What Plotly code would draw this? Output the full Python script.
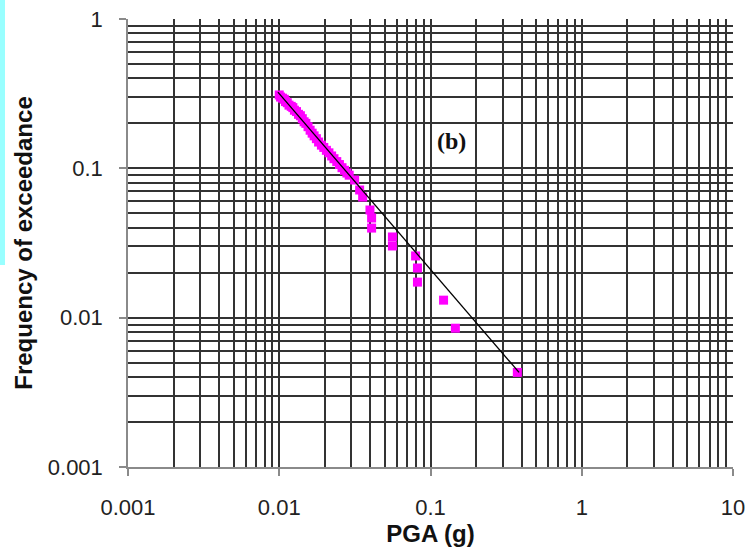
import plotly.graph_objects as go

# ---- data ----
pga = [0.0100, 0.0102, 0.0105, 0.0108, 0.0110, 0.0113, 0.0116, 0.0120, 0.0123, 0.0126,
       0.0130, 0.0134, 0.0138, 0.0142, 0.0146, 0.0150, 0.0155, 0.0160, 0.0165, 0.0170,
       0.0176, 0.0182, 0.0190, 0.0197, 0.0205, 0.0213, 0.0222, 0.0230, 0.0240, 0.0250,
       0.0260, 0.0270, 0.0280, 0.0290, 0.0315, 0.0340, 0.0356, 0.0398, 0.0408, 0.0408,
       0.0560, 0.0560, 0.0797, 0.0820, 0.0820, 0.1220, 0.1460, 0.3750]
freq = [0.310, 0.300, 0.295, 0.290, 0.280, 0.275, 0.265, 0.260, 0.255, 0.245,
        0.240, 0.230, 0.225, 0.215, 0.205, 0.200, 0.190, 0.180, 0.172, 0.165,
        0.158, 0.150, 0.143, 0.138, 0.132, 0.127, 0.121, 0.116, 0.111, 0.106,
        0.101, 0.097, 0.093, 0.090, 0.0835, 0.0716, 0.0642, 0.0526, 0.0465, 0.0398,
        0.0347, 0.0302, 0.0259, 0.0215, 0.0173, 0.0131, 0.0085, 0.0043]

fit_x = [0.0098, 0.385]
fit_y = [0.324, 0.0043]

x_tick_vals = [0.001, 0.01, 0.1, 1, 10]
x_tick_text = ["0.001", "0.01", "0.1", "1", "10"]
y_tick_vals = [0.001, 0.01, 0.1, 1]
y_tick_text = ["0.001", "0.01", "0.1", "1"]

x_minor = [m * d for d in [0.001, 0.01, 0.1, 1] for m in range(2, 10)]
y_minor = [m * d for d in [0.001, 0.01, 0.1] for m in range(2, 10)]

GRID = "#333333"
AX = "#8a8a8a"
SANS = "Liberation Sans, Arial, sans-serif"

fig = go.Figure()
fig.add_trace(go.Scatter(
    x=pga, y=freq, mode="markers",
    marker=dict(symbol="square", size=9, color="#FF00FF", line=dict(width=0)),
    showlegend=False, cliponaxis=False))
fig.add_trace(go.Scatter(
    x=fit_x, y=fit_y, mode="lines",
    line=dict(color="black", width=1.3), showlegend=False))

axis_common = dict(
    type="log", showline=True, linecolor=AX, linewidth=1.5,
    ticks="outside", ticklen=7, tickcolor=AX, tickwidth=1.5,
    showgrid=True, gridcolor=GRID, gridwidth=1.6,
    tickfont=dict(family=SANS, size=22, color="#222"),
    zeroline=False, mirror=False, automargin=False,
)

fig.update_xaxes(
    **axis_common, range=[-3, 1], tickmode="array",
    tickvals=x_tick_vals, ticktext=x_tick_text, ticklabelstandoff=13,
    minor=dict(tickvals=x_minor, showgrid=True, gridcolor=GRID, gridwidth=1.6,
               ticks=""),
    title=dict(text="<b>PGA (g)</b>", standoff=6,
               font=dict(family=SANS, size=24, color="#111")),
)
fig.update_yaxes(
    **axis_common, range=[-3, 0], tickmode="array",
    tickvals=y_tick_vals, ticktext=y_tick_text, ticklabelstandoff=12,
    minor=dict(tickvals=y_minor, showgrid=True, gridcolor=GRID, gridwidth=1.6,
               ticks=""),
    title=dict(text="<b>Frequency of exceedance</b>", standoff=8,
               font=dict(family=SANS, size=24, color="#111")),
)

# annotation position on log axes is given in log10 units
fig.add_annotation(
    x=-0.86, y=-0.82, xref="x", yref="y", text="<b>(b)</b>", showarrow=False,
    font=dict(family="Liberation Serif, Times New Roman, serif", size=24, color="#111"),
)

fig.add_shape(type="rect", xref="paper", yref="paper",
              x0=-128 / 605, x1=-123 / 605, y0=(467 - 265) / 448, y1=(467 + 19) / 448,
              fillcolor="#99FFFF", line=dict(width=0), layer="below")

fig.update_layout(
    width=752, height=554,
    margin=dict(l=128, r=19, t=19, b=87),
    paper_bgcolor="white", plot_bgcolor="white",
)

fig.write_html("out.html")
